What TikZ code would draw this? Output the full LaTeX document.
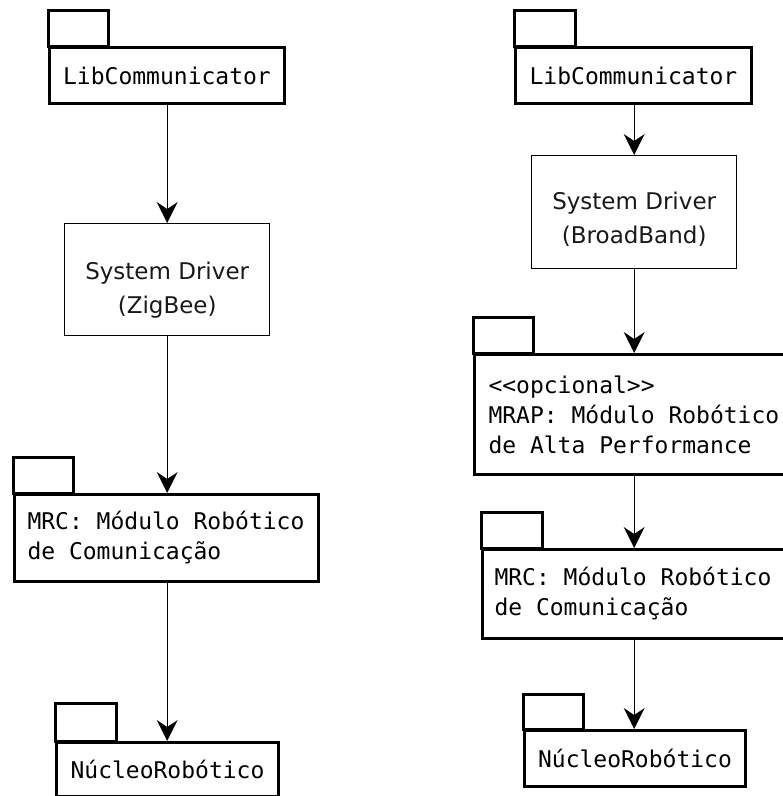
\documentclass[tikz,border=0pt]{standalone}
\usepackage{fontspec}
\setmainfont{DejaVu Sans}
\newfontfamily\pkgmono{DejaVu Sans Mono}
\usetikzlibrary{arrows.meta}
% fixed-width, unbreakable space for the monospaced labels
\newcommand\msp{\nobreak\hspace*{0.602em}\nobreak}

\begin{document}
\begin{tikzpicture}[x=1pt,y=-1pt,
  pkgbody/.style={draw, line width=3pt, rectangle, anchor=north west,
    inner sep=0pt, text=black,
    font=\pkgmono\fontsize{23}{30}\selectfont},
  pkgleft/.style={pkgbody, align=left, inner xsep=#1},
  pkgtab/.style={draw, line width=3pt, line join=miter},
  drvbox/.style={draw, line width=1.4pt, rectangle, anchor=north west, inner sep=0pt},
  drvtext/.style={align=center, text=black!90, font=\fontsize{23}{34}\selectfont},
  conn/.style={draw, line width=1.4pt,
    -{Stealth[length=21pt, width=21pt, inset=7pt]}}
]
\useasboundingbox (0,0) rectangle (783,796);
\clip (0,0) rectangle (783,796);

% ---------- left column (ZigBee) ----------
\node[pkgbody, minimum width=235pt, minimum height=56pt] (libL) at (48,46) {LibCommunicator};
\draw[pkgtab] (libL.north west) rectangle ++(60,-36);

\node[drvbox, minimum width=205pt, minimum height=112pt] (drvL) at (64,223) {};
\node[drvtext, yshift=-10pt] (drvLtxt) at (drvL.center) {System Driver\\(ZigBee)};

\node[pkgleft=13pt, text width=278pt, minimum height=87pt] (mrcL) at (13,493)
  {MRC:\msp Módulo\msp Robótico\\de\msp Comunicação};
\draw[pkgtab] (mrcL.north west) rectangle ++(60,-36);

\node[pkgbody, minimum width=222pt, minimum height=54pt] (nucL) at (55,741) {NúcleoRobótico};
\draw[pkgtab] (nucL.north west) rectangle ++(61,-38);

\draw[conn] (drvL.north |- libL.south) -- (drvL.north);
\draw[conn] (drvL.south) -- (drvL.south |- mrcL.north);
\draw[conn] (drvL.south |- mrcL.south) -- (drvL.south |- nucL.north);

% ---------- right column (BroadBand) ----------
\node[pkgbody, minimum width=236pt, minimum height=56pt] (libR) at (514,46) {LibCommunicator};
\draw[pkgtab] (libR.north west) rectangle ++(61,-36);

\node[drvbox, minimum width=205pt, minimum height=113pt] (drvR) at (531,155) {};
\node[drvtext, yshift=-7pt] (drvRtxt) at (drvR.center) {System Driver\\(BroadBand)};

\node[pkgleft=14pt, text width=300pt, minimum height=120pt] (mrapR) at (473,353)
  {<<opcional>>\\MRAP:\msp Módulo\msp Robótico\\de\msp Alta\msp Performance};
\draw[pkgtab] (mrapR.north west) rectangle ++(60,-36);

\node[pkgleft=12pt, text width=300pt, minimum height=89pt] (mrcR) at (481,548)
  {MRC:\msp Módulo\msp Robótico\\de\msp Comunicação};
\draw[pkgtab] (mrcR.north west) rectangle ++(61,-36);

\node[pkgbody, minimum width=221pt, minimum height=56pt] (nucR) at (523,729) {NúcleoRobótico};
\draw[pkgtab] (nucR.north west) rectangle ++(60,-35);

\draw[conn] (drvR.north |- libR.south) -- (drvR.north);
\draw[conn] (drvR.south) -- (drvR.south |- mrapR.north);
\draw[conn] (drvR.south |- mrapR.south) -- (drvR.south |- mrcR.north);
\draw[conn] (drvR.south |- mrcR.south) -- (drvR.south |- nucR.north);
\end{tikzpicture}
\end{document}
